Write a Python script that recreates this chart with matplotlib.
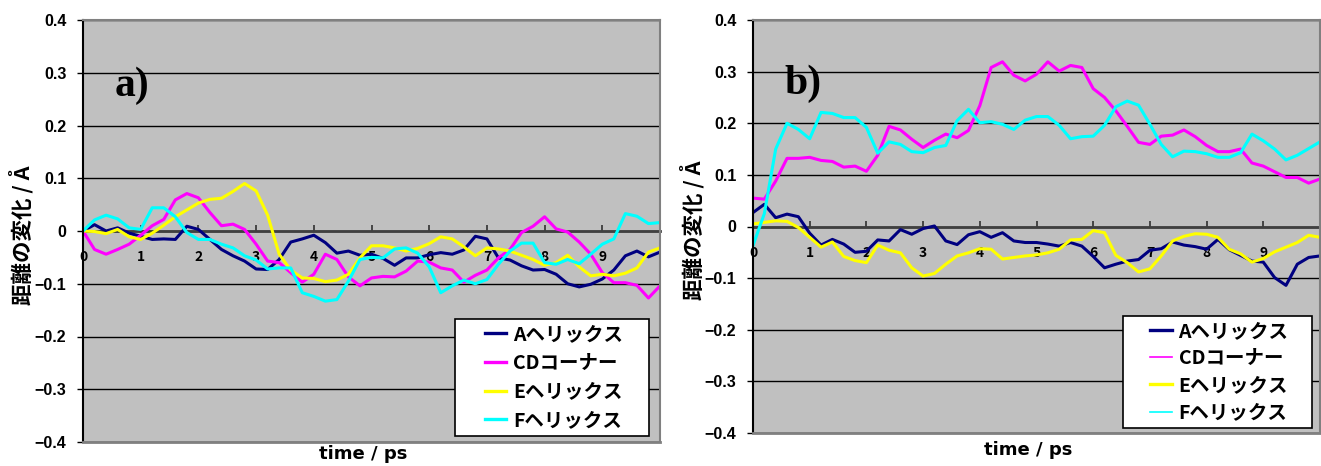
import numpy as np
import matplotlib
matplotlib.use('Agg')
import matplotlib.pyplot as plt
from matplotlib.patches import Rectangle

plt.rcParams['font.family'] = ['Noto Sans CJK JP', 'DejaVu Sans']
plt.rcParams['font.weight'] = 'bold'

# time axis (ps), sampled every 0.2 ps
time = [0.0, 0.2, 0.4, 0.6, 0.8, 1.0, 1.2, 1.4, 1.6, 1.8,
        2.0, 2.2, 2.4, 2.6, 2.8, 3.0, 3.2, 3.4, 3.6, 3.8,
        4.0, 4.2, 4.4, 4.6, 4.8, 5.0, 5.2, 5.4, 5.6, 5.8,
        6.0, 6.2, 6.4, 6.6, 6.8, 7.0, 7.2, 7.4, 7.6, 7.8,
        8.0, 8.2, 8.4, 8.6, 8.8, 9.0, 9.2, 9.4, 9.6, 9.8, 10.0]

names = ['Aヘリックス', 'CDコーナー', 'Eヘリックス', 'Fヘリックス']
colors = ['#000080', '#FF00FF', '#FFFF00', '#00FFFF']

# panel a)
A_a = [0, 0.012, 0.0, 0.006, -0.004, -0.01, -0.016, -0.015, -0.016, 0.009,
       0.003, -0.016, -0.035, -0.047, -0.057, -0.072, -0.073, -0.054, -0.021, -0.015,
       -0.008, -0.022, -0.042, -0.038, -0.046, -0.044, -0.052, -0.065, -0.051, -0.051,
       -0.045, -0.041, -0.044, -0.036, -0.01, -0.015, -0.051, -0.055, -0.066, -0.074,
       -0.073, -0.082, -0.1, -0.106, -0.101, -0.091, -0.074, -0.047, -0.038, -0.049, -0.04]
CD_a = [0, -0.035, -0.044, -0.035, -0.025, -0.008, 0.01, 0.022, 0.059, 0.071,
        0.063, 0.035, 0.01, 0.013, 0.003, -0.025, -0.057, -0.06, -0.079, -0.097,
        -0.082, -0.044, -0.054, -0.087, -0.104, -0.089, -0.086, -0.087, -0.076, -0.057,
        -0.059, -0.07, -0.074, -0.097, -0.084, -0.074, -0.051, -0.035, -0.003, 0.009,
        0.027, 0.004, -0.002, -0.021, -0.044, -0.079, -0.098, -0.098, -0.103, -0.127, -0.104]
E_a = [0, -0.001, -0.005, 0.003, -0.011, -0.016, -0.004, 0.011, 0.027, 0.04,
       0.053, 0.06, 0.062, 0.075, 0.09, 0.076, 0.03, -0.044, -0.074, -0.089,
       -0.09, -0.096, -0.093, -0.082, -0.051, -0.028, -0.028, -0.032, -0.038, -0.033,
       -0.024, -0.011, -0.015, -0.03, -0.047, -0.032, -0.034, -0.038, -0.046, -0.054,
       -0.065, -0.06, -0.046, -0.068, -0.085, -0.082, -0.085, -0.08, -0.07, -0.04, -0.032]
F_a = [0, 0.021, 0.03, 0.023, 0.006, 0.003, 0.044, 0.044, 0.027, -0.003,
       -0.016, -0.016, -0.025, -0.032, -0.047, -0.055, -0.072, -0.07, -0.07, -0.117,
       -0.124, -0.133, -0.13, -0.095, -0.054, -0.05, -0.051, -0.034, -0.032, -0.042,
       -0.068, -0.117, -0.104, -0.093, -0.1, -0.092, -0.063, -0.038, -0.023, -0.023,
       -0.06, -0.063, -0.054, -0.062, -0.044, -0.025, -0.015, 0.033, 0.028, 0.014, 0.016]

# panel b)
A_b = [0.027, 0.043, 0.017, 0.024, 0.019, -0.013, -0.036, -0.025, -0.034, -0.05,
       -0.048, -0.026, -0.028, -0.006, -0.015, -0.004, 0.001, -0.028, -0.035, -0.016,
       -0.01, -0.021, -0.012, -0.028, -0.031, -0.031, -0.034, -0.038, -0.031, -0.038,
       -0.058, -0.08, -0.073, -0.067, -0.064, -0.046, -0.043, -0.03, -0.036, -0.039,
       -0.044, -0.025, -0.045, -0.056, -0.067, -0.069, -0.099, -0.114, -0.073, -0.06, -0.057]
CD_b = [0.055, 0.053, 0.088, 0.132, 0.132, 0.134, 0.128, 0.126, 0.115, 0.117,
        0.107, 0.138, 0.194, 0.187, 0.169, 0.153, 0.167, 0.179, 0.172, 0.186,
        0.234, 0.308, 0.319, 0.293, 0.282, 0.295, 0.319, 0.301, 0.312, 0.308,
        0.267, 0.25, 0.224, 0.194, 0.163, 0.159, 0.175, 0.177, 0.187, 0.174,
        0.157, 0.145, 0.145, 0.15, 0.123, 0.117, 0.106, 0.095, 0.095, 0.084, 0.092]
E_b = [0.005, 0.008, 0.011, 0.01, -0.002, -0.021, -0.04, -0.03, -0.058, -0.066,
       -0.07, -0.036, -0.046, -0.051, -0.08, -0.096, -0.091, -0.073, -0.057, -0.051,
       -0.043, -0.044, -0.063, -0.06, -0.057, -0.055, -0.051, -0.044, -0.026, -0.025,
       -0.008, -0.012, -0.056, -0.07, -0.088, -0.082, -0.057, -0.028, -0.019, -0.014,
       -0.015, -0.021, -0.044, -0.053, -0.069, -0.062, -0.049, -0.04, -0.031, -0.017, -0.021]
F_b = [-0.037, 0.025, 0.15, 0.2, 0.188, 0.17, 0.221, 0.219, 0.211, 0.211,
       0.192, 0.142, 0.164, 0.159, 0.145, 0.143, 0.153, 0.157, 0.205, 0.227,
       0.201, 0.203, 0.198, 0.188, 0.206, 0.213, 0.213, 0.196, 0.17, 0.174,
       0.175, 0.196, 0.232, 0.243, 0.235, 0.198, 0.159, 0.135, 0.146, 0.145,
       0.141, 0.134, 0.134, 0.143, 0.179, 0.166, 0.15, 0.129, 0.138, 0.151, 0.164]

yticks = [0.4, 0.3, 0.2, 0.1, 0, -0.1, -0.2, -0.3, -0.4]
ytick_labels = ['0.4', '0.3', '0.2', '0.1', '0', '\u22120.1', '\u22120.2', '\u22120.3', '\u22120.4']
xticks = [0, 1, 2, 3, 4, 5, 6, 7, 8, 9, 10]
xtick_labels = ['0', '1', '2', '3', '4', '5', '6', '7', '8', '9', '']

W, H = 1321, 466
fig = plt.figure(figsize=(W / 100, H / 100), dpi=100)
fig.patch.set_facecolor('white')


def draw_panel(rect, series, tag, legbox, xlab_y, spacing, thin_legend=()):
    ax = fig.add_axes(rect)
    ax.set_facecolor('#C0C0C0')
    for vals, name, c in zip(series, names, colors):
        ax.plot(time, vals, color=c, lw=2.2, label=name, zorder=2)
    ax.set_xlim(0, 10)
    ax.set_ylim(-0.4, 0.4)
    ax.set_yticks(yticks)
    ax.set_yticklabels(ytick_labels, fontfamily='Liberation Sans',
                       fontweight='bold', fontsize=11.5)
    ax.set_xticks(xticks)
    ax.set_xticklabels(xtick_labels, fontfamily='Liberation Sans',
                       fontweight='bold', fontsize=13.5)
    ax.yaxis.grid(True, color='black', lw=1)
    ax.set_axisbelow(True)
    ax.spines['bottom'].set_position(('data', 0))
    ax.spines['bottom'].set_color('#404040')
    ax.spines['bottom'].set_linewidth(2)
    ax.spines['bottom'].set_zorder(1.5)
    ax.spines['left'].set_color('black')
    ax.spines['left'].set_linewidth(1.5)
    for s in ['top', 'right']:
        ax.spines[s].set_color('#808080')
        ax.spines[s].set_linewidth(1.5)
    ax.axhline(-0.4, color='#808080', lw=2, zorder=3, clip_on=False)
    ax.tick_params(axis='y', direction='out', length=4, width=1, pad=8, colors='black')
    ax.tick_params(axis='x', direction='in', length=4.5, width=1.2, pad=14,
                   color='#303030')

    ax.set_ylabel('距離の変化 / Å', fontsize=15.5, fontweight='bold')
    ax.yaxis.set_label_coords(-0.085, 0.49)
    ax.set_xlabel('time / ps', fontsize=13, fontweight='bold', family='DejaVu Sans')
    ax.xaxis.set_label_coords(0.485, xlab_y)

    ax.text(0.055, 0.845, tag, transform=ax.transAxes, fontsize=30,
            fontweight='bold', family='Liberation Serif', va='center', ha='left')

    x0, y0, x1, y1 = legbox
    ax.add_patch(Rectangle((x0, y0), x1 - x0, y1 - y0, transform=ax.transAxes,
                           facecolor='white', edgecolor='black', lw=1.2, zorder=4))
    leg = ax.legend(loc='center', bbox_to_anchor=((x0 + x1) / 2 + 0.003, (y0 + y1) / 2),
                    frameon=False, fontsize=14, handlelength=1.1, handletextpad=0.36,
                    labelspacing=spacing, borderpad=0.2)
    leg.set_zorder(5)
    for i, ln in enumerate(leg.get_lines()):
        ln.set_linewidth(1.2 if i in thin_legend else 2.4)
    return ax


draw_panel([83 / W, 24 / H, 577 / W, 422 / H], [A_a, CD_a, E_a, F_a], 'a)',
           (0.645, 0.014, 0.981, 0.291), -0.008, 0.5)
draw_panel([753 / W, 33 / H, 567 / W, 413 / H], [A_b, CD_b, E_b, F_b], 'b)',
           (0.653, 0.012, 0.986, 0.283), -0.019, 0.42, thin_legend=(1, 3))

fig.savefig('out.png', dpi=100)
